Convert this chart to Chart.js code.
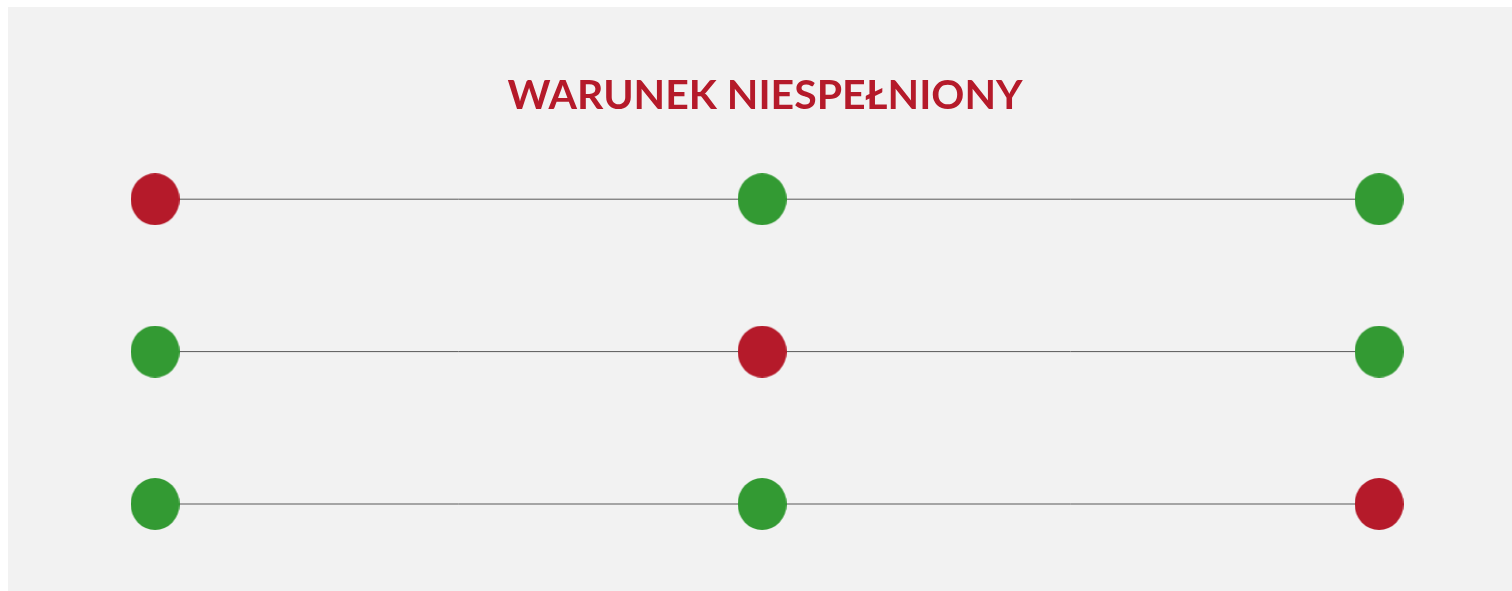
<!DOCTYPE html>
<html>
<head>
<meta charset="utf-8">
<script src="https://cdn.jsdelivr.net/npm/chart.js@4/dist/chart.umd.min.js"></script>
<style>
    html, body { margin: 0; padding: 0; background: #ffffff; }
    #panel { position: absolute; left: 8px; top: 7px; width: 1504px; height: 584px; background: #f2f2f2; }
</style>
</head>
<body>
<div id="panel"><canvas id="chart" width="1504" height="584"></canvas></div>
<script>
    // three conditions, each checked at three stages
    const titleText = 'WARUNEK NIESPEŁNIONY';
    const stages = [0, 0.992, 2];
    const rows = [3, 2, 1];
    // true = spełniony (green), false = niespełniony (red)
    const rowStatus = [
        [false, true, true],
        [true, false, true],
        [true, true, false]
    ];

    const RED = '#b51a2a';
    const GREEN = '#339a33';

    function makeDot(color) {
        const c = document.createElement('canvas');
        c.width = 49;
        c.height = 52;
        const ctx = c.getContext('2d');
        ctx.fillStyle = color;
        ctx.beginPath();
        ctx.ellipse(24.5, 26, 24.5, 26, 0, 0, Math.PI * 2);
        ctx.fill();
        return c;
    }
    const redDot = makeDot(RED);
    const greenDot = makeDot(GREEN);

    const datasets = rows.map((row, i) => ({
        data: stages.map(s => ({ x: s, y: row })),
        showLine: true,
        borderColor: '#595959',
        borderWidth: 1,
        pointStyle: rowStatus[i].map(ok => ok ? greenDot : redDot),
        pointRadius: 25,
        pointHoverRadius: 25,
        clip: false
    }));

    const ctx = document.getElementById('chart').getContext('2d');
    new Chart(ctx, {
        type: 'scatter',
        data: { datasets: datasets },
        options: {
            responsive: false,
            animation: false,
            events: [],
            layout: { padding: { left: 145, right: 135, top: 0, bottom: 87 } },
            scales: {
                x: { type: 'linear', min: -0.0033, max: 1.9967, display: false },
                y: { type: 'linear', min: 1, max: 3, display: false }
            },
            plugins: {
                legend: { display: false },
                tooltip: { enabled: false },
                title: {
                    display: true,
                    text: titleText,
                    color: RED,
                    font: { family: 'Lato', size: 41, weight: 'bold', lineHeight: 1.2 },
                    padding: { top: 64, bottom: 79 }
                }
            }
        }
    });
</script>
</body>
</html>
